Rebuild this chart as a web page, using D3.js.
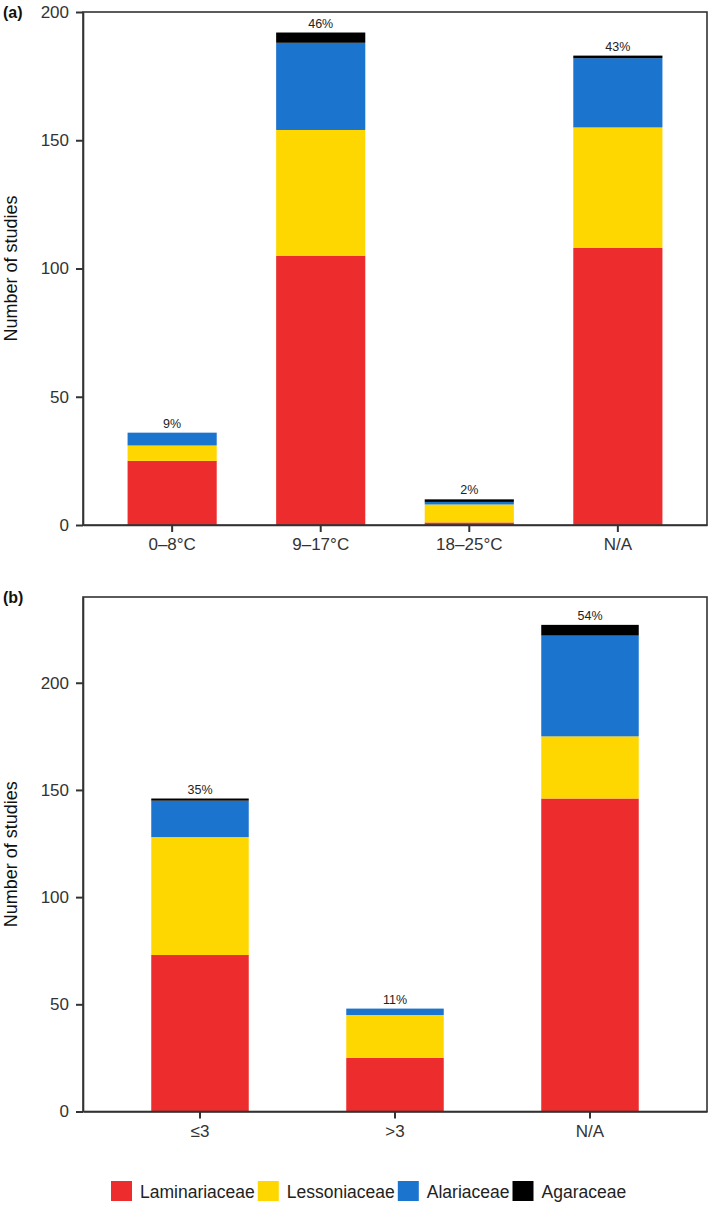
<!DOCTYPE html>
<html>
<head>
<meta charset="utf-8">
<script src="https://cdn.jsdelivr.net/npm/d3@7"></script>
<style>
  html, body { margin: 0; padding: 0; background: #fff; }
  svg { display: block; font-family: "Liberation Sans", Arial, Helvetica, sans-serif; }
</style>
</head>
<body>
<svg id="chart" width="709" height="1205"></svg>
<script>
// ---------- DATA ----------
const families = ["Laminariaceae", "Lessoniaceae", "Alariaceae", "Agaraceae"];
const familyColors = ["#ED2D2D", "#FFD700", "#1B74CE", "#000000"];

// Panel (a): temperature
const categoriesA = ["0–8°C", "9–17°C", "18–25°C", "N/A"];
const laminariaceaeA = [25, 105, 1, 108];
const lessoniaceaeA  = [6, 49, 7, 47];
const alariaceaeA    = [5, 34, 1, 27];
const agaraceaeA     = [0, 4, 1, 1];
const percentA = ["9%", "46%", "2%", "43%"];
const ticksA = [0, 50, 100, 150, 200];

// Panel (b)
const categoriesB = ["≤3", ">3", "N/A"];
const laminariaceaeB = [73, 25, 146];
const lessoniaceaeB  = [55, 20, 29];
const alariaceaeB    = [17, 3, 47];
const agaraceaeB     = [1, 0, 5];
const percentB = ["35%", "11%", "54%"];
const ticksB = [0, 50, 100, 150, 200];

const axisTitle = "Number of studies";

// ---------- DRAW ----------
const svg = d3.select("#chart");
const FONT = '"Liberation Sans", Arial, Helvetica, sans-serif';
const AXC = "#333333";

function buildRows(cats, l1, l2, l3, l4) {
  return cats.map((c, i) => ({
    cat: c,
    Laminariaceae: l1[i], Lessoniaceae: l2[i], Alariaceae: l3[i], Agaraceae: l4[i]
  }));
}

function panel(opts) {
  const { rows, cats, pct, ticks, top, bottom, left, right, yMax,
          padInner, padOuter, tag } = opts;
  const g = svg.append("g");
  const x = d3.scaleBand().domain(cats).range([left, right])
    .paddingInner(padInner).paddingOuter(padOuter);
  const y = d3.scaleLinear().domain([0, yMax]).range([bottom, top]);

  const stack = d3.stack().keys(families);
  const series = stack(rows);
  const color = d3.scaleOrdinal().domain(families).range(familyColors);

  g.selectAll("g.layer").data(series).join("g")
    .attr("class", "layer")
    .attr("fill", d => color(d.key))
    .selectAll("rect").data(d => d).join("rect")
    .attr("x", d => x(d.data.cat))
    .attr("width", x.bandwidth())
    .attr("y", d => y(d[1]))
    .attr("height", d => Math.max(0, y(d[0]) - y(d[1])));

  // percentage labels
  g.selectAll("text.pct").data(rows).join("text")
    .attr("class", "pct")
    .attr("x", d => x(d.cat) + x.bandwidth() / 2)
    .attr("y", (d, i) => y(d3.sum(families, k => d[k])) - 5)
    .attr("text-anchor", "middle")
    .attr("font-size", 12.5)
    .attr("fill", "#222")
    .text((d, i) => pct[i]);

  // axes
  const ya = g.append("g").attr("transform", `translate(${left},0)`)
    .call(d3.axisLeft(y).tickValues(ticks).tickSize(7).tickSizeOuter(0).tickPadding(7));
  const xa = g.append("g").attr("transform", `translate(0,${bottom})`)
    .call(d3.axisBottom(x).tickSize(7).tickSizeOuter(0).tickPadding(6));
  [ya, xa].forEach(a => {
    a.selectAll("path.domain").attr("stroke", AXC).attr("stroke-width", 1.6);
    a.selectAll(".tick line").attr("stroke", AXC).attr("stroke-width", 2);
    a.selectAll(".tick text").attr("fill", "#333").attr("font-size", 17)
      .attr("font-family", FONT);
  });

  // frame
  g.append("rect")
    .attr("x", left).attr("y", top)
    .attr("width", right - left).attr("height", bottom - top)
    .attr("fill", "none").attr("stroke", AXC).attr("stroke-width", 1.6);

  // axis title
  g.append("text")
    .attr("transform", `translate(16.5,${(top + bottom) / 2}) rotate(-90)`)
    .attr("text-anchor", "middle")
    .attr("font-size", 18)
    .attr("fill", "#111")
    .text(axisTitle);

  // panel tag
  g.append("text")
    .attr("x", 3).attr("y", top + 6)
    .attr("font-size", 16).attr("font-weight", "bold")
    .attr("fill", "#111")
    .text(tag);
}

panel({
  rows: buildRows(categoriesA, laminariaceaeA, lessoniaceaeA, alariaceaeA, agaraceaeA),
  cats: categoriesA, pct: percentA, ticks: ticksA,
  top: 12, bottom: 525, left: 83, right: 707, yMax: 200,
  padInner: 0.4, padOuter: 0.3, tag: "(a)"
});

panel({
  rows: buildRows(categoriesB, laminariaceaeB, lessoniaceaeB, alariaceaeB, agaraceaeB),
  cats: categoriesB, pct: percentB, ticks: ticksB,
  top: 597, bottom: 1111.5, left: 83, right: 707, yMax: 240,
  padInner: 0.5, padOuter: 0.35, tag: "(b)"
});

// ---------- LEGEND ----------
const legend = svg.append("g").attr("transform", "translate(111,1181)");
let lx = 0;
families.forEach((f, i) => {
  const item = legend.append("g").attr("transform", `translate(${lx},0)`);
  item.append("rect").attr("width", 21).attr("height", 20).attr("fill", familyColors[i]);
  const t = item.append("text").attr("x", 29).attr("y", 16.5)
    .attr("font-size", 17.5).attr("fill", "#222").text(f);
  const w = t.node().getComputedTextLength();
  lx += 29 + w + 3;
});
</script>
</body>
</html>
